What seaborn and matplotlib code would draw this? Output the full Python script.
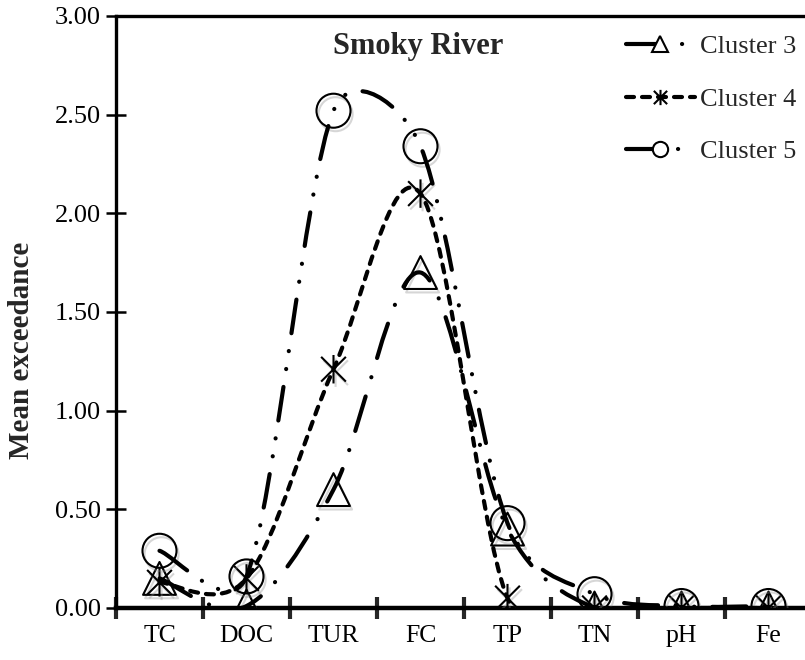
import numpy as np
import pandas as pd
import matplotlib
matplotlib.use("Agg")
import matplotlib.pyplot as plt
import seaborn as sns
from matplotlib.path import Path
from matplotlib.patches import PathPatch
from matplotlib.lines import Line2D
import matplotlib.patheffects as pe

# ---- data -------------------------------------------------------------
parameters = ["TC", "DOC", "TUR", "FC", "TP", "TN", "pH", "Fe"]
cluster3 = [0.15, 0.01, 0.60, 1.70, 0.40, 0.00, 0.00, 0.00]
cluster4 = [0.13, 0.15, 1.21, 2.10, 0.05, 0.00, 0.00, 0.00]
cluster5 = [0.29, 0.16, 2.52, 2.34, 0.43, 0.07, 0.01, 0.01]
series_names = ["Cluster 3", "Cluster 4", "Cluster 5"]
y_ticks = [0.0, 0.5, 1.0, 1.5, 2.0, 2.5, 3.0]

# ---- style ------------------------------------------------------------
sns.set_theme(style="white")
plt.rcParams["font.family"] = ["Liberation Serif", "DejaVu Serif"]
plt.rcParams["lines.scale_dashes"] = False

PX = 72 / 100  # points per pixel at dpi 100

# asterisk marker: an X crossed by a vertical bar
asterisk = Path(
    [(-1, -1), (1, 1), (-1, 1), (1, -1), (0, -1.15), (0, 1.15)],
    [Path.MOVETO, Path.LINETO, Path.MOVETO, Path.LINETO, Path.MOVETO, Path.LINETO],
)

styles = {
    "Cluster 3": dict(marker="^", dashes=(0, (36 * PX, 20 * PX, 0.1, 20 * PX)), size=560),
    "Cluster 4": dict(marker=asterisk, dashes=(0, (8 * PX, 8 * PX)), size=420),
    "Cluster 5": dict(marker="o", dashes=(0, (34 * PX, 18 * PX, 0.1, 18 * PX, 0.1, 18 * PX)), size=600),
}

df = pd.DataFrame({
    "param": np.tile(np.arange(len(parameters)), 3),
    "value": cluster3 + cluster4 + cluster5,
    "cluster": np.repeat(series_names, len(parameters)),
})


def smooth_path(ax, xs, ys, k=1 / 6):
    """Spreadsheet-style smoothed line: cubic Bezier segments whose tangent
    handles are (next - previous) * k, clipped to half the segment length
    measured on screen."""
    to_px = ax.transData.transform
    to_data = ax.transData.inverted().transform
    pts = to_px(np.column_stack([xs, ys]).astype(float))
    ext = np.vstack([pts[0], pts, pts[-1]])
    verts = [pts[0]]
    codes = [Path.MOVETO]
    for i in range(len(pts) - 1):
        p0, p1, p2, p3 = ext[i], ext[i + 1], ext[i + 2], ext[i + 3]
        half = np.linalg.norm(p2 - p1) / 2
        t1 = (p2 - p0) * k
        t2 = (p3 - p1) * k
        n1, n2 = np.linalg.norm(t1), np.linalg.norm(t2)
        if n1 > half and n1 > 0:
            t1 = t1 * half / n1
        if n2 > half and n2 > 0:
            t2 = t2 * half / n2
        verts += [p1 + t1, p2 - t2, p2]
        codes += [Path.CURVE4] * 3
    return Path(to_data(np.array(verts)), codes)


fig = plt.figure(figsize=(8.05, 6.60), dpi=100)
ax = fig.add_axes([116 / 805, 52 / 660, 696 / 805, 592 / 660])
ax.set_xlim(-0.5, 7.5)
ax.set_ylim(0, 3.0)

shadow = [pe.SimpleLineShadow(offset=(1.5, -2.5), shadow_color="0.55", alpha=0.35), pe.Normal()]

# markers
for name in series_names:
    sub = df[df["cluster"] == name]
    sns.scatterplot(
        data=sub, x="param", y="value", ax=ax,
        marker=styles[name]["marker"], s=styles[name]["size"],
        facecolor="none", edgecolor="black", linewidth=1.5, legend=False, zorder=3,
    )
    ax.collections[-1].set_path_effects(shadow)

# smoothed connecting lines
for name in series_names:
    sub = df[df["cluster"] == name]
    patch = PathPatch(
        smooth_path(ax, sub["param"].values, sub["value"].values),
        fill=False, edgecolor="black", linewidth=3.0, zorder=4,
    )
    patch.set_linestyle(styles[name]["dashes"])
    patch.set_capstyle("round")
    ax.add_patch(patch)

# ---- axes -------------------------------------------------------------
ax.set_xlim(-0.5, 7.5)
ax.set_ylim(0, 3.0)
ax.set_xticks(range(len(parameters)))
ax.set_xticklabels(parameters)
ax.set_xticks(np.arange(-0.5, 8.0, 1.0), minor=True)
ax.set_yticks(y_ticks)
ax.set_yticklabels([f"{v:.2f}" for v in y_ticks])
ax.tick_params(axis="x", which="major", length=0, labelsize=18.5, pad=12, colors="black")
ax.tick_params(axis="x", which="minor", length=16, width=3, direction="inout", bottom=True)
ax.tick_params(axis="y", which="major", length=14, width=1.8, direction="inout", left=True,
               labelsize=19, pad=4, colors="black")
ax.set_xlabel("")
ax.set_ylabel("")
for side in ["left", "bottom", "top"]:
    ax.spines[side].set_color("black")
    ax.spines[side].set_linewidth(2.4)
ax.spines["bottom"].set_linewidth(3.2)
ax.spines["right"].set_visible(False)
ax.grid(False)

fig.text(22 / 805, 1 - 350 / 660, "Mean exceedance", rotation=90, ha="center", va="center",
         fontsize=21, fontweight="bold")
fig.text(333 / 805, 1 - 54 / 660, "Smoky River", ha="left", va="baseline",
         fontsize=22, fontweight="bold")

# ---- legend -----------------------------------------------------------
handles = []
for name in series_names:
    st = styles[name]
    h = Line2D([], [], color="black", linewidth=3.0, marker=st["marker"], markersize=11,
               markerfacecolor="white", markeredgecolor="black", markeredgewidth=1.5,
               dash_capstyle="round")
    h.set_dashes(st["dashes"][1])
    handles.append(h)
fig.legend(handles, series_names, loc="upper left", bbox_to_anchor=(626 / 805, 1 - 35 / 660),
           frameon=False, fontsize=19, handlelength=2.6, handletextpad=0.2,
           labelspacing=1.1, borderaxespad=0, borderpad=0)

fig.savefig("out.png", dpi=100)
